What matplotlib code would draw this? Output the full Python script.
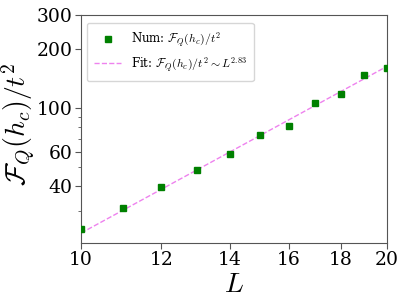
import numpy as np
import matplotlib
matplotlib.use("Agg")
import matplotlib.pyplot as plt
from matplotlib.ticker import ScalarFormatter, NullFormatter

L = [10, 11, 12, 13, 14, 15, 16, 17, 18, 19, 20]
FQ = [24.3, 30.9, 39.7, 48.2, 58.6, 73.5, 81.4, 106.4, 117.7, 147.8, 160.4]
fit_exp = 2.83
fit_pref = 0.0341
xticks = [10, 12, 14, 16, 18, 20]
yticks = [40, 60, 100, 200, 300]

plt.rcParams['font.family'] = ['DejaVu Serif']
plt.rcParams['mathtext.fontset'] = 'cm'

fig = plt.figure(figsize=(4.07, 3.05), dpi=100)
ax = fig.add_axes([0.199, 0.203, 0.752, 0.748])

Lfit = np.linspace(10, 20, 100)
ax.plot(L, FQ, 's', color='green', markersize=4.5, label=r'Num: $\mathcal{F}_Q(h_c)/t^2$', zorder=3)
ax.plot(Lfit, fit_pref * Lfit ** fit_exp, '--', color='violet', lw=1.0,
        label=r'Fit: $\mathcal{F}_Q(h_c)/t^2 \sim L^{2.83}$', zorder=2)

ax.set_xscale('log')
ax.set_yscale('log')
ax.set_xlim(10, 20)
ax.set_ylim(20.5, 300)
ax.set_xticks(xticks)
ax.set_yticks(yticks)
for axis in (ax.xaxis, ax.yaxis):
    f = ScalarFormatter()
    f.set_scientific(False)
    axis.set_major_formatter(f)
    axis.set_minor_formatter(NullFormatter())
ax.tick_params(axis='both', which='major', labelsize=13.5, length=4, color='#555555', pad=2)
ax.tick_params(axis='both', which='minor', length=2, color='#555555')
for s in ax.spines.values():
    s.set_color('#555555')

ax.set_xlabel(r'$L$', fontsize=20, labelpad=1)
ax.set_ylabel(r'$\mathcal{F}_Q(h_c)/t^2$', fontsize=20)
ax.yaxis.set_label_coords(-0.143, 0.52)
ax.legend(loc='upper left', fontsize=8.5, handlelength=2.3, borderpad=0.6,
          labelspacing=0.5, bbox_to_anchor=(0.0, 0.99))

fig.savefig('out.png', dpi=100)
